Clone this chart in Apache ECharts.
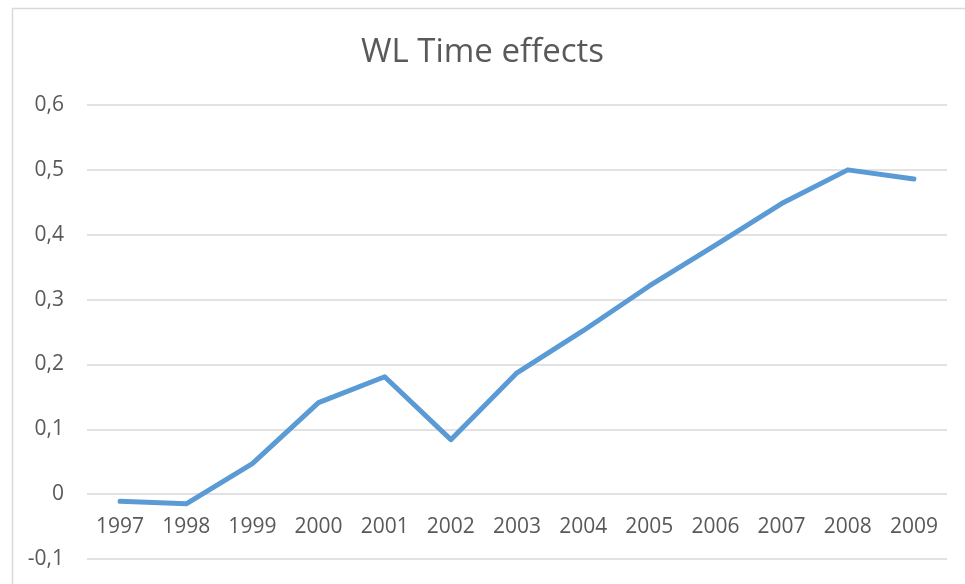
<!DOCTYPE html>
<html lang="en">
<head>
    <meta charset="UTF-8">
    <title>WL Time effects</title>
    <style>
        html, body { margin: 0; padding: 0; background: #fff; }
    </style>
</head>
<body>
    <div id="chart" style="width: 965px;height:584px;"></div>
    <script src="https://cdn.jsdelivr.net/npm/echarts@6/dist/echarts.min.js"></script>
    <script type="text/javascript">
       // data
       var years = ['1997', '1998', '1999', '2000', '2001', '2002', '2003',
                    '2004', '2005', '2006', '2007', '2008', '2009'];
       var effects = [-0.011, -0.015, 0.047, 0.141, 0.181, 0.084, 0.187,
                      0.252, 0.321, 0.384, 0.448, 0.5, 0.486];
       var yTicks = [-0.1, 0, 0.1, 0.2, 0.3, 0.4, 0.5, 0.6];

       var myChart = echarts.init(document.getElementById('chart'));
       var textColor = '#595959';
       var gridColor = '#d9d9d9';
       var font = '"Open Sans", "Noto Sans", sans-serif';

       var gridTop = 105, gridBottom = 25;
       var gridHeight = 584 - gridTop - gridBottom;
       // category labels sit on the zero line, one step above the bottom
       var zeroOffset = -gridHeight / (yTicks.length - 1);

       var option = {
           animation: false,
           // chart frame (its right and bottom edges fall outside the picture)
           graphic: [{
               type: 'rect',
               left: 10, top: 6,
               shape: { width: 1000, height: 1000 },
               style: { fill: 'none', stroke: gridColor, lineWidth: 1.5 }
           }],
           title: {
               text: 'WL Time effects',
               left: 'center',
               top: 31,
               textStyle: {
                   color: textColor,
                   fontFamily: font,
                   fontSize: 33,
                   fontWeight: 'normal'
               }
           },
           grid: {
               left: 87,
               right: 18,
               top: gridTop,
               bottom: gridBottom,
               containLabel: false,
               outerBoundsMode: 'none'
           },
           xAxis: {
               type: 'category',
               data: years,
               boundaryGap: true,
               offset: zeroOffset,
               axisLine: { show: false, onZero: false },
               axisTick: { show: false },
               axisLabel: {
                   color: textColor,
                   fontFamily: font,
                   fontSize: 21,
                   margin: 22
               }
           },
           yAxis: {
               type: 'value',
               min: yTicks[0],
               max: yTicks[yTicks.length - 1],
               interval: 0.1,
               axisLine: { show: false },
               axisTick: { show: false },
               splitLine: { lineStyle: { color: gridColor, width: 1.5 } },
               axisLabel: {
                   color: textColor,
                   fontFamily: font,
                   fontSize: 21,
                   margin: 23,
                   formatter: function (v) {
                       return (Math.round(v * 10) / 10).toString().replace('.', ',');
                   }
               }
           },
           series: [{
               type: 'line',
               data: effects,
               symbol: 'none',
               lineStyle: { color: '#5b9bd5', width: 5, cap: 'round', join: 'round' }
           }]
       };
       myChart.setOption(option);
    </script>
</body>
</html>
